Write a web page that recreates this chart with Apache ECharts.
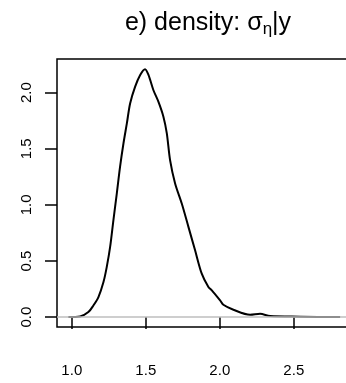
<!DOCTYPE html>
<html>
<head>
<meta charset="utf-8">
<script src="https://cdn.jsdelivr.net/npm/echarts@6/dist/echarts.min.js"></script>
<style>html,body{margin:0;padding:0;background:#fff;}#c{width:346px;height:383px;}</style>
</head>
<body>
<div id="c"></div>
<script>
const xVals = [0.977,1.056,1.112,1.146,1.180,1.214,1.236,1.259,1.281,1.304,1.326,1.349,1.372,1.394,1.428,1.462,1.495,1.518,1.551,1.585,1.619,1.642,1.664,1.698,1.743,1.788,1.833,1.878,1.923,1.946,2.002,2.024,2.092,2.205,2.272,2.340,2.543,2.813];
const densVals = [0.000,0.006,0.045,0.104,0.179,0.313,0.446,0.625,0.863,1.101,1.339,1.547,1.726,1.904,2.054,2.158,2.209,2.158,2.024,1.920,1.786,1.637,1.399,1.191,1.012,0.804,0.595,0.387,0.268,0.238,0.149,0.110,0.066,0.021,0.030,0.009,0.004,0.000];
const xTicks = [1.0,1.5,2.0,2.5];
const yTicks = [0.0,0.5,1.0,1.5,2.0];

const chart = echarts.init(document.getElementById('c'), null, {renderer:'canvas'});
const font = 'Liberation Sans, Arial, Helvetica, sans-serif';
chart.setOption({
  animation:false,
  backgroundColor:'#fff',
  title:{
    text:'e) density: {g|σ}{sub|η}|y',
    left:203, top:4, textAlign:'center',
    textStyle:{fontFamily:font,fontSize:25,fontWeight:'normal',color:'#000',
      rich:{g:{fontFamily:font,fontSize:25,color:'#000'},
            sub:{fontFamily:font,fontSize:17,color:'#000',padding:[12,0,0,0]}}}
  },
  grid:{left:57,top:59,width:296,height:268,outerBoundsMode:'none',containLabel:false,
    show:true,borderColor:'#000',borderWidth:1.5,backgroundColor:'transparent'},
  xAxis:{type:'value',min:0.9,max:2.9,
    axisLine:{show:false},splitLine:{show:false},
    axisTick:{show:true,inside:false,length:12,customValues:xTicks,lineStyle:{color:'#000',width:1.5}},
    axisLabel:{show:true,customValues:xTicks,margin:36,fontFamily:font,fontSize:15,color:'#000',
      formatter:v=>v.toFixed(1)}},
  yAxis:{type:'value',min:-0.088,max:2.30,
    axisLine:{show:false},splitLine:{show:false},
    axisTick:{show:true,inside:false,length:12,customValues:yTicks,lineStyle:{color:'#000',width:1.5}},
    axisLabel:{show:true,customValues:yTicks,margin:23,rotate:90,fontFamily:font,fontSize:15,color:'#000',
      formatter:v=>v.toFixed(1)}},
  series:[{
    type:'line',
    data:xVals.map((x,i)=>[x,densVals[i]]),
    smooth:0.3,showSymbol:false,symbol:'none',
    lineStyle:{color:'#000',width:2},
    markLine:{silent:true,symbol:'none',label:{show:false},
      lineStyle:{color:'#bebebe',width:1.5,type:'solid'},
      data:[{yAxis:0}]},
    z:3
  }]
});
</script>
</body>
</html>
